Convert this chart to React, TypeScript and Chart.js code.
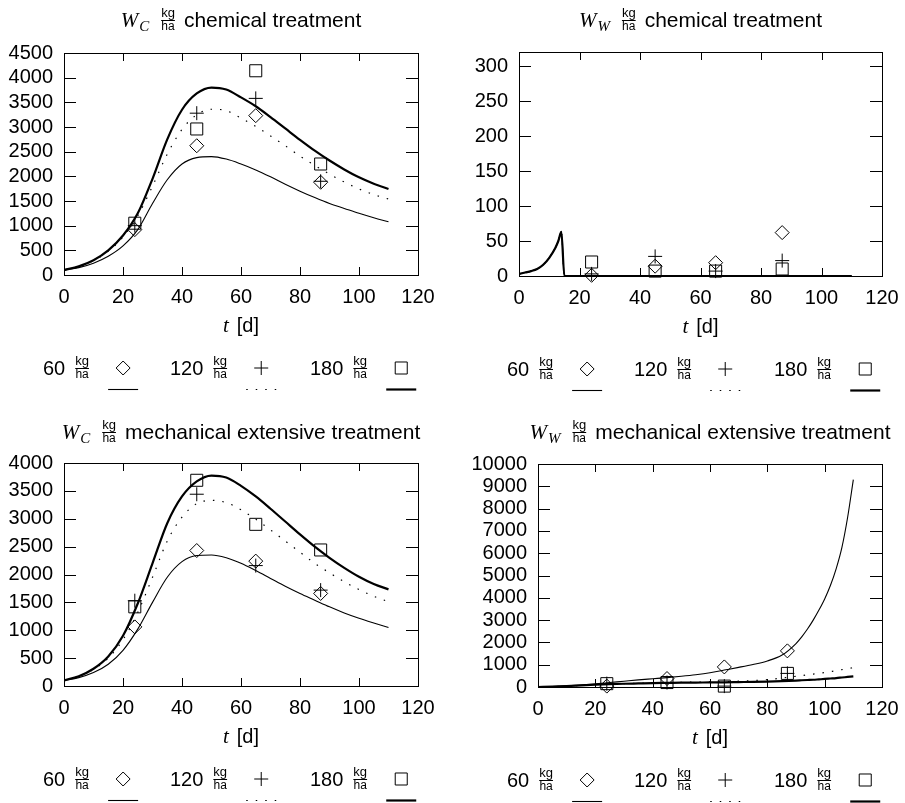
import React, { useEffect, useRef } from "react";
import { Chart, registerables } from "chart.js";

Chart.register(...registerables);

// ---------------- data ----------------
const doseLabels = ["60", "120", "180"];
const tObs = [24, 45, 65, 87];
const xTickValues = [0, 20, 40, 60, 80, 100, 120];

const tModel = [0, 5, 10, 15, 20, 25, 30, 35, 40, 45, 50, 55, 60, 65, 70, 75, 80, 85, 90, 95, 100, 105, 110];

// W_C chemical treatment
const wcChemModel60 = [100, 150, 240, 380, 590, 920, 1450, 1930, 2250, 2380, 2400, 2350, 2250, 2130, 1990, 1840, 1700, 1570, 1450, 1350, 1250, 1160, 1080];
const wcChemModel120 = [100, 170, 290, 480, 770, 1200, 1800, 2450, 2950, 3250, 3360, 3330, 3180, 3010, 2820, 2620, 2410, 2220, 2045, 1885, 1745, 1630, 1540];
const wcChemModel180 = [100, 175, 300, 500, 800, 1250, 1950, 2750, 3350, 3680, 3800, 3760, 3600, 3420, 3200, 2970, 2740, 2520, 2320, 2140, 1980, 1850, 1745];
const wcChemObs60 = [920, 2620, 3230, 1880];
const wcChemObs120 = [1000, 3280, 3580, 1900];
const wcChemObs180 = [1050, 2960, 4140, 2250];

// W_W chemical treatment
const tModelWWChem = [0, 2, 4, 6, 8, 10, 12, 13, 14, 15, 20, 40, 60, 80, 100, 110];
const wwChemModel60 = [3, 5, 7, 10, 16, 26, 40, 50, 63, 0, 0, 0, 0, 0, 0, 0];
const wwChemModel120 = [3, 5, 7, 10, 16, 26, 40, 50, 63, 0, 0, 0, 0, 0, 0, 0];
const wwChemModel180 = [3, 5, 7, 10, 16, 26, 40, 50, 63, 0, 0, 0, 0, 0, 0, 0];
const wwChemObs60 = [1, 14, 19, 62];
const wwChemObs120 = [3, 28, 7, 22];
const wwChemObs180 = [20, 7, 7, 10];

// W_C mechanical extensive treatment
const wcMechModel60 = [100, 150, 240, 390, 640, 1020, 1500, 1950, 2230, 2340, 2350, 2300, 2200, 2070, 1930, 1790, 1660, 1540, 1420, 1310, 1215, 1130, 1049];
const wcMechModel120 = [100, 170, 300, 500, 830, 1320, 1950, 2600, 3030, 3270, 3330, 3290, 3160, 2990, 2800, 2600, 2400, 2200, 2030, 1870, 1730, 1610, 1511];
const wcMechModel180 = [100, 175, 310, 530, 900, 1480, 2200, 2920, 3400, 3670, 3775, 3740, 3590, 3400, 3180, 2950, 2720, 2500, 2300, 2120, 1960, 1830, 1733];
const wcMechObs60 = [1060, 2430, 2240, 1660];
const wcMechObs120 = [1530, 3440, 2160, 1720];
const wcMechObs180 = [1420, 3690, 2900, 2440];

// W_W mechanical extensive treatment
const tModelWWMech = [0, 5, 10, 15, 20, 25, 30, 35, 40, 45, 50, 55, 60, 65, 70, 75, 80, 85, 90, 92, 94, 96, 98, 100, 102, 104, 106, 108, 110];
const wwMechModel60 = [0, 20, 50, 90, 140, 200, 260, 320, 370, 420, 480, 550, 640, 760, 880, 1010, 1170, 1420, 1950, 2250, 2600, 3000, 3450, 3950, 4550, 5300, 6250, 7600, 9300];
const wwMechModel120 = [0, 15, 40, 70, 100, 125, 150, 170, 190, 200, 210, 220, 230, 240, 260, 290, 330, 400, 480, 510, 545, 580, 615, 650, 690, 730, 780, 820, 870];
const wwMechModel180 = [0, 15, 40, 70, 100, 125, 145, 160, 175, 185, 195, 200, 205, 210, 220, 230, 245, 265, 290, 302, 314, 326, 343, 360, 380, 400, 425, 450, 475];
const wwMechObs60 = [40, 380, 900, 1620];
const wwMechObs120 = [150, 200, 40, 610];
const wwMechObs180 = [150, 200, 40, 610];

// ---------------- styling ----------------
const SANS = '"Liberation Sans", Arial, Helvetica, sans-serif';
const SERIF = '"Liberation Serif", "Times New Roman", serif';

const lineStyles = [
  { width: 1.1, dash: [] as number[] },
  { width: 1.2, dash: [1.5, 8] },
  { width: 2.2, dash: [] as number[] },
];
const markerStyles = ["rectRot", "cross", "rect"];
const markerRadius = [7, 7, 8.5];

type Spec = {
  key: string;
  left: number;
  top: number;
  w: number;
  h: number;
  area: { l: number; r: number; t: number; b: number };
  yMax: number;
  yStep: number;
  sub: string;
  title: string;
  titleBase: number;
  legendX0: number;
  tModel: number[];
  models: number[][];
  obs: number[][];
};

const specs: Spec[] = [
  {
    key: "p1", left: 0, top: 0, w: 452, h: 400,
    area: { l: 64, r: 418, t: 53, b: 275 },
    yMax: 4500, yStep: 500, sub: "C", title: "chemical treatment", titleBase: 27, legendX0: 43,
    tModel: tModel, models: [wcChemModel60, wcChemModel120, wcChemModel180],
    obs: [wcChemObs60, wcChemObs120, wcChemObs180],
  },
  {
    key: "p2", left: 452, top: 0, w: 453, h: 400,
    area: { l: 67, r: 430, t: 52, b: 276 },
    yMax: 320, yStep: 50, sub: "W", title: "chemical treatment", titleBase: 27, legendX0: 55,
    tModel: tModelWWChem, models: [wwChemModel60, wwChemModel120, wwChemModel180],
    obs: [wwChemObs60, wwChemObs120, wwChemObs180],
  },
  {
    key: "p3", left: 0, top: 400, w: 452, h: 403,
    area: { l: 64, r: 418, t: 63, b: 286 },
    yMax: 4000, yStep: 500, sub: "C", title: "mechanical extensive treatment", titleBase: 39, legendX0: 43,
    tModel: tModel, models: [wcMechModel60, wcMechModel120, wcMechModel180],
    obs: [wcMechObs60, wcMechObs120, wcMechObs180],
  },
  {
    key: "p4", left: 452, top: 400, w: 453, h: 403,
    area: { l: 86, r: 430, t: 64, b: 287 },
    yMax: 10000, yStep: 1000, sub: "W", title: "mechanical extensive treatment", titleBase: 39, legendX0: 55,
    tModel: tModelWWMech, models: [wwMechModel60, wwMechModel120, wwMechModel180],
    obs: [wwMechObs60, wwMechObs120, wwMechObs180],
  },
];

// ---------------- drawing helpers ----------------
function drawFraction(ctx: CanvasRenderingContext2D, cx: number, lineY: number) {
  ctx.save();
  ctx.font = `13px ${SANS}`;
  ctx.textAlign = "center";
  ctx.textBaseline = "alphabetic";
  const wKg = ctx.measureText("kg").width;
  ctx.fillText("kg", cx, lineY - 3);
  ctx.font = `12px ${SANS}`;
  ctx.fillText("ha", cx, lineY + 10);
  ctx.lineWidth = 1;
  ctx.beginPath();
  ctx.moveTo(cx - wKg / 2, lineY + 0.5);
  ctx.lineTo(cx + wKg / 2, lineY + 0.5);
  ctx.stroke();
  ctx.restore();
  return wKg;
}

function drawMarker(ctx: CanvasRenderingContext2D, style: string, x: number, y: number, r: number) {
  ctx.beginPath();
  if (style === "rectRot") {
    ctx.moveTo(x, y - r);
    ctx.lineTo(x + r, y);
    ctx.lineTo(x, y + r);
    ctx.lineTo(x - r, y);
    ctx.closePath();
  } else if (style === "cross") {
    ctx.moveTo(x - r, y);
    ctx.lineTo(x + r, y);
    ctx.moveTo(x, y - r);
    ctx.lineTo(x, y + r);
  } else {
    const s = r * Math.SQRT1_2;
    ctx.rect(x - s, y - s, 2 * s, 2 * s);
  }
  ctx.stroke();
}

function Panel({ spec }: { spec: Spec }) {
  const ref = useRef<HTMLCanvasElement>(null);

  useEffect(() => {
    const canvas = ref.current;
    if (!canvas) return;
    const { area, w, h } = spec;

    const datasets: any[] = [];
    spec.obs.forEach((vals, i) => {
      datasets.push({
        type: "scatter",
        label: doseLabels[i] + " kg/ha",
        data: tObs.map((t, j) => ({ x: t, y: vals[j] })),
        showLine: false,
        pointStyle: markerStyles[i],
        pointRadius: markerRadius[i],
        pointHoverRadius: markerRadius[i],
        borderColor: "#000",
        backgroundColor: "rgba(0,0,0,0)",
        borderWidth: 1,
        pointBorderWidth: 1,
        clip: false,
      });
    });
    [2, 1, 0].forEach((i) => {
      const vals = spec.models[i];
      datasets.push({
        type: "line",
        label: doseLabels[i] + " kg/ha model",
        data: spec.tModel.map((t, j) => ({ x: t, y: vals[j] })),
        borderColor: "#000",
        borderWidth: lineStyles[i].width,
        borderDash: lineStyles[i].dash,
        pointRadius: 0,
        fill: false,
        cubicInterpolationMode: "monotone",
      });
    });

    const deco = {
      id: "deco",
      afterDraw(chart: any) {
        const ctx: CanvasRenderingContext2D = chart.ctx;
        const { left, right, top, bottom } = chart.chartArea;
        const xs = chart.scales.x;
        const ys = chart.scales.y;
        ctx.save();
        ctx.strokeStyle = "#000";
        ctx.fillStyle = "#000";
        ctx.lineWidth = 1;
        ctx.setLineDash([]);
        // frame
        ctx.strokeRect(left + 0.5, top + 0.5, right - left, bottom - top);
        // inward ticks
        ctx.beginPath();
        xTickValues.forEach((v) => {
          if (v <= xs.min || v >= xs.max) return;
          const px = Math.round(xs.getPixelForValue(v)) + 0.5;
          ctx.moveTo(px, bottom);
          ctx.lineTo(px, bottom - 8);
          ctx.moveTo(px, top);
          ctx.lineTo(px, top + 8);
        });
        ys.ticks.forEach((tk: any) => {
          const v = tk.value;
          if (v <= ys.min || v >= ys.max) return;
          const py = Math.round(ys.getPixelForValue(v)) + 0.5;
          ctx.moveTo(left, py);
          ctx.lineTo(left + 12, py);
          ctx.moveTo(right, py);
          ctx.lineTo(right - 12, py);
        });
        ctx.stroke();

        // title
        const cx = (left + right) / 2;
        const base = spec.titleBase;
        ctx.textBaseline = "alphabetic";
        ctx.textAlign = "left";
        ctx.font = `italic 21px ${SERIF}`;
        const wW = ctx.measureText("W").width;
        ctx.font = `italic 15px ${SERIF}`;
        const wSub = ctx.measureText(spec.sub).width;
        ctx.font = `13px ${SANS}`;
        const wFrac = ctx.measureText("kg").width;
        ctx.font = `21px ${SANS}`;
        const wText = ctx.measureText(spec.title).width;
        const g1 = 12;
        const g2 = 9;
        const total = wW + 1 + wSub + g1 + wFrac + g2 + wText;
        let x = cx - total / 2;
        ctx.font = `italic 21px ${SERIF}`;
        ctx.fillText("W", x, base);
        x += wW + 1;
        ctx.font = `italic 15px ${SERIF}`;
        ctx.fillText(spec.sub, x, base + 4);
        x += wSub + g1;
        drawFraction(ctx, x + wFrac / 2, base - 7);
        x += wFrac + g2;
        ctx.font = `21px ${SANS}`;
        ctx.fillText(spec.title, x, base);

        // x axis title "t [d]"
        const xb = bottom + 57;
        ctx.font = `italic 21px ${SERIF}`;
        const wt = ctx.measureText("t").width;
        ctx.font = `20px ${SANS}`;
        const wd = ctx.measureText("[d]").width;
        const gap = 8;
        let tx = cx - (wt + gap + wd) / 2;
        ctx.font = `italic 21px ${SERIF}`;
        ctx.fillText("t", tx, xb);
        tx += wt + gap;
        ctx.font = `20px ${SANS}`;
        ctx.fillText("[d]", tx, xb);

        // legend
        const lb = bottom + 100;
        const ly = bottom + 114;
        const offs = [0, 127, 267];
        doseLabels.forEach((lab, i) => {
          const x0 = spec.legendX0 + offs[i];
          ctx.font = `20px ${SANS}`;
          ctx.textAlign = "left";
          ctx.fillText(lab, x0, lb);
          const tw = ctx.measureText(lab).width;
          const fc = x0 + tw + 10 + wFrac / 2;
          drawFraction(ctx, fc, lb - 7);
          const mx = fc + 41;
          ctx.lineWidth = 1;
          ctx.setLineDash([]);
          drawMarker(ctx, markerStyles[i], mx, lb - 7, markerRadius[i]);
          ctx.lineWidth = lineStyles[i].width;
          ctx.setLineDash(lineStyles[i].dash);
          ctx.beginPath();
          ctx.moveTo(mx - 15, ly + 0.5);
          ctx.lineTo(mx + 15, ly + 0.5);
          ctx.stroke();
          ctx.setLineDash([]);
        });
        ctx.restore();
      },
    };

    const tickFont = { family: SANS, size: 20 };
    const chart = new Chart(canvas, {
      data: { datasets },
      options: {
        animation: false,
        responsive: false,
        devicePixelRatio: 1,
        layout: { padding: { left: 0, top: area.t, right: w - area.r, bottom: 0 } },
        plugins: {
          legend: { display: false },
          title: { display: false },
          tooltip: { enabled: false },
        },
        scales: {
          x: {
            type: "linear",
            min: 0,
            max: 120,
            ticks: {
              stepSize: 20,
              font: tickFont,
              color: "#000",
              padding: 10,
              maxRotation: 0,
              autoSkip: false,
              callback: (v: any) => String(v),
            },
            grid: { display: false, drawTicks: false },
            border: { display: false },
            afterFit: (s: any) => {
              s.height = h - area.b;
              s.paddingLeft = 0;
              s.paddingRight = 0;
            },
          },
          y: {
            type: "linear",
            min: 0,
            max: spec.yMax,
            ticks: {
              stepSize: spec.yStep,
              includeBounds: false,
              font: tickFont,
              color: "#000",
              padding: 11,
              autoSkip: false,
              callback: (v: any) => String(v),
            },
            grid: { display: false, drawTicks: false },
            border: { display: false },
            afterFit: (s: any) => {
              s.width = area.l;
              s.paddingTop = 0;
              s.paddingBottom = 0;
            },
          },
        },
      } as any,
      plugins: [deco],
    } as any);

    return () => chart.destroy();
  }, [spec]);

  return (
    <canvas
      ref={ref}
      width={spec.w}
      height={spec.h}
      style={{ position: "absolute", left: spec.left, top: spec.top, width: spec.w, height: spec.h }}
    />
  );
}

export default function App() {
  return (
    <div
      style={{
        position: "absolute",
        left: 0,
        top: 0,
        width: 905,
        height: 803,
        background: "#fff",
        overflow: "hidden",
      }}
    >
      {specs.map((s) => (
        <Panel key={s.key} spec={s} />
      ))}
    </div>
  );
}
